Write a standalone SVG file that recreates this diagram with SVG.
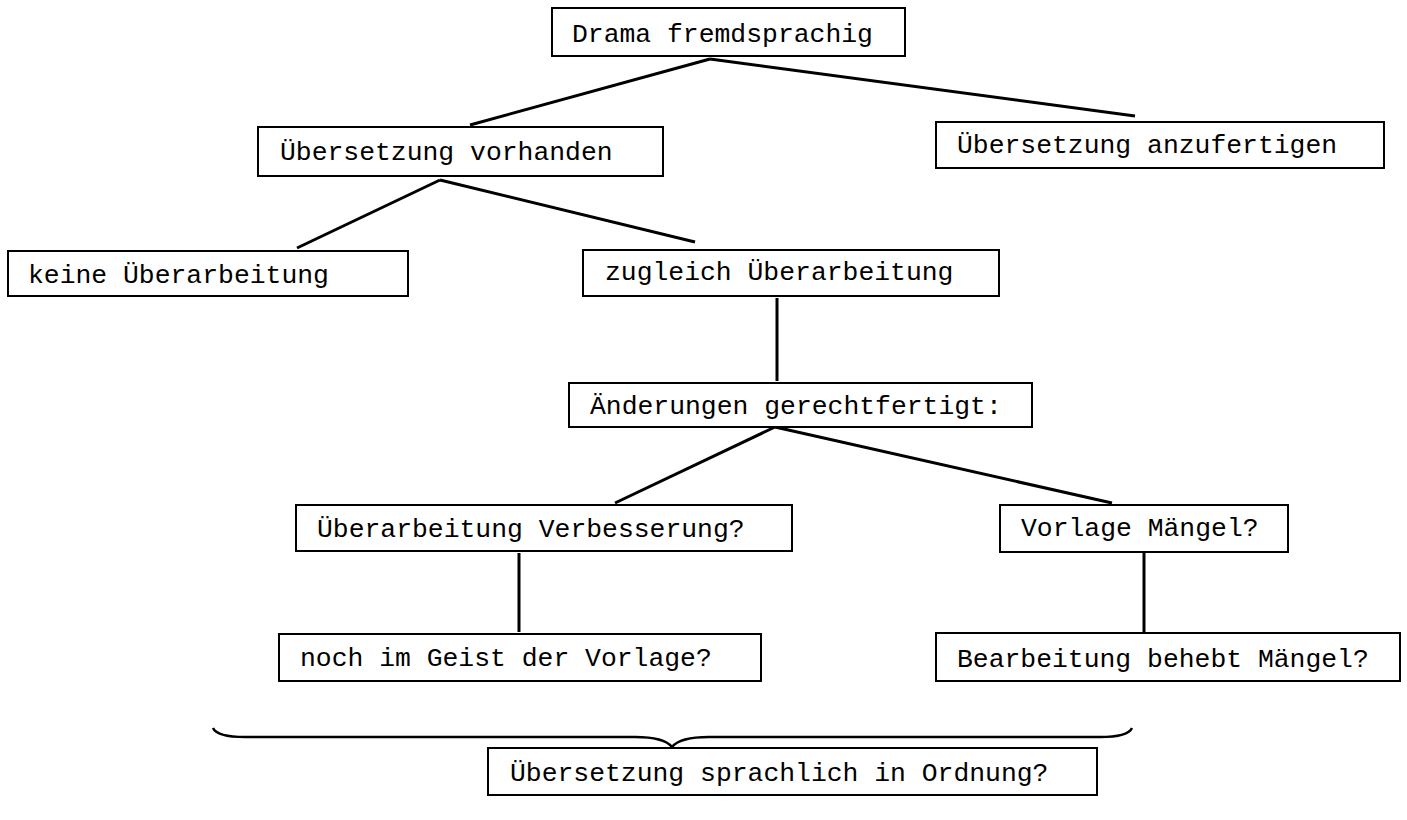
<svg xmlns="http://www.w3.org/2000/svg" width="1407" height="820" viewBox="0 0 1407 820">
<style>
rect{fill:#fff;stroke:#000;stroke-width:2}
text{font-family:"Liberation Mono","Courier New",monospace;font-size:26.4px;fill:#000}
.n{font-family:"Liberation Mono",monospace}
.c line,.c path{stroke:#000;stroke-width:3;fill:none}
</style>
<rect x="0" y="0" width="1407" height="820" style="stroke:none"/>
<g class="c" id="connectors">
<line x1="710" y1="59" x2="470" y2="125"/>
<line x1="710" y1="59" x2="1135" y2="116"/>
<line x1="440" y1="180" x2="297" y2="248"/>
<line x1="440" y1="180" x2="695" y2="242"/>
<line x1="777" y1="298" x2="777" y2="381"/>
<line x1="775" y1="427" x2="615" y2="503"/>
<line x1="775" y1="427" x2="1112" y2="503"/>
<line x1="519" y1="553" x2="519" y2="632"/>
<line x1="1144" y1="553" x2="1144" y2="632"/>
<path d="M213 728 Q217 737 245 737 L635 737 Q664 737 672 747 Q680 737 709 737 L1100 737 Q1128 737 1132 728" style="stroke-width:2.5"/>
</g>
<g id="n1"><rect x="552" y="8" width="353" height="48"/><text x="572" y="42">Drama fremdsprachig</text></g>
<g id="n2"><rect x="258" y="127" width="405" height="49"/><text class="n" x="280" y="160">Übersetzung vorhanden</text></g>
<g id="n3"><rect x="936" y="122" width="448" height="46"/><text x="957" y="153">Übersetzung anzufertigen</text></g>
<g id="n4"><rect x="8" y="251" width="400" height="45"/><text class="n" x="28" y="283">keine Überarbeitung</text></g>
<g id="n5"><rect x="583" y="250" width="416" height="46"/><text x="605" y="280">zugleich Überarbeitung</text></g>
<g id="n6"><rect x="569" y="383" width="463" height="44"/><text x="590" y="414">Änderungen gerechtfertigt:</text></g>
<g id="n7"><rect x="296" y="505" width="496" height="46"/><text x="317" y="537">Überarbeitung Verbesserung?</text></g>
<g id="n8"><rect x="1000" y="505" width="288" height="47"/><text x="1021" y="536">Vorlage Mängel?</text></g>
<g id="n9"><rect x="279" y="634" width="482" height="47"/><text x="300" y="666">noch im Geist der Vorlage?</text></g>
<g id="n10"><rect x="936" y="633" width="464" height="48"/><text x="957" y="667">Bearbeitung behebt Mängel?</text></g>
<g id="n11"><rect x="488" y="748" width="609" height="47"/><text class="n" x="510" y="781">Übersetzung sprachlich in Ordnung?</text></g>
</svg>
